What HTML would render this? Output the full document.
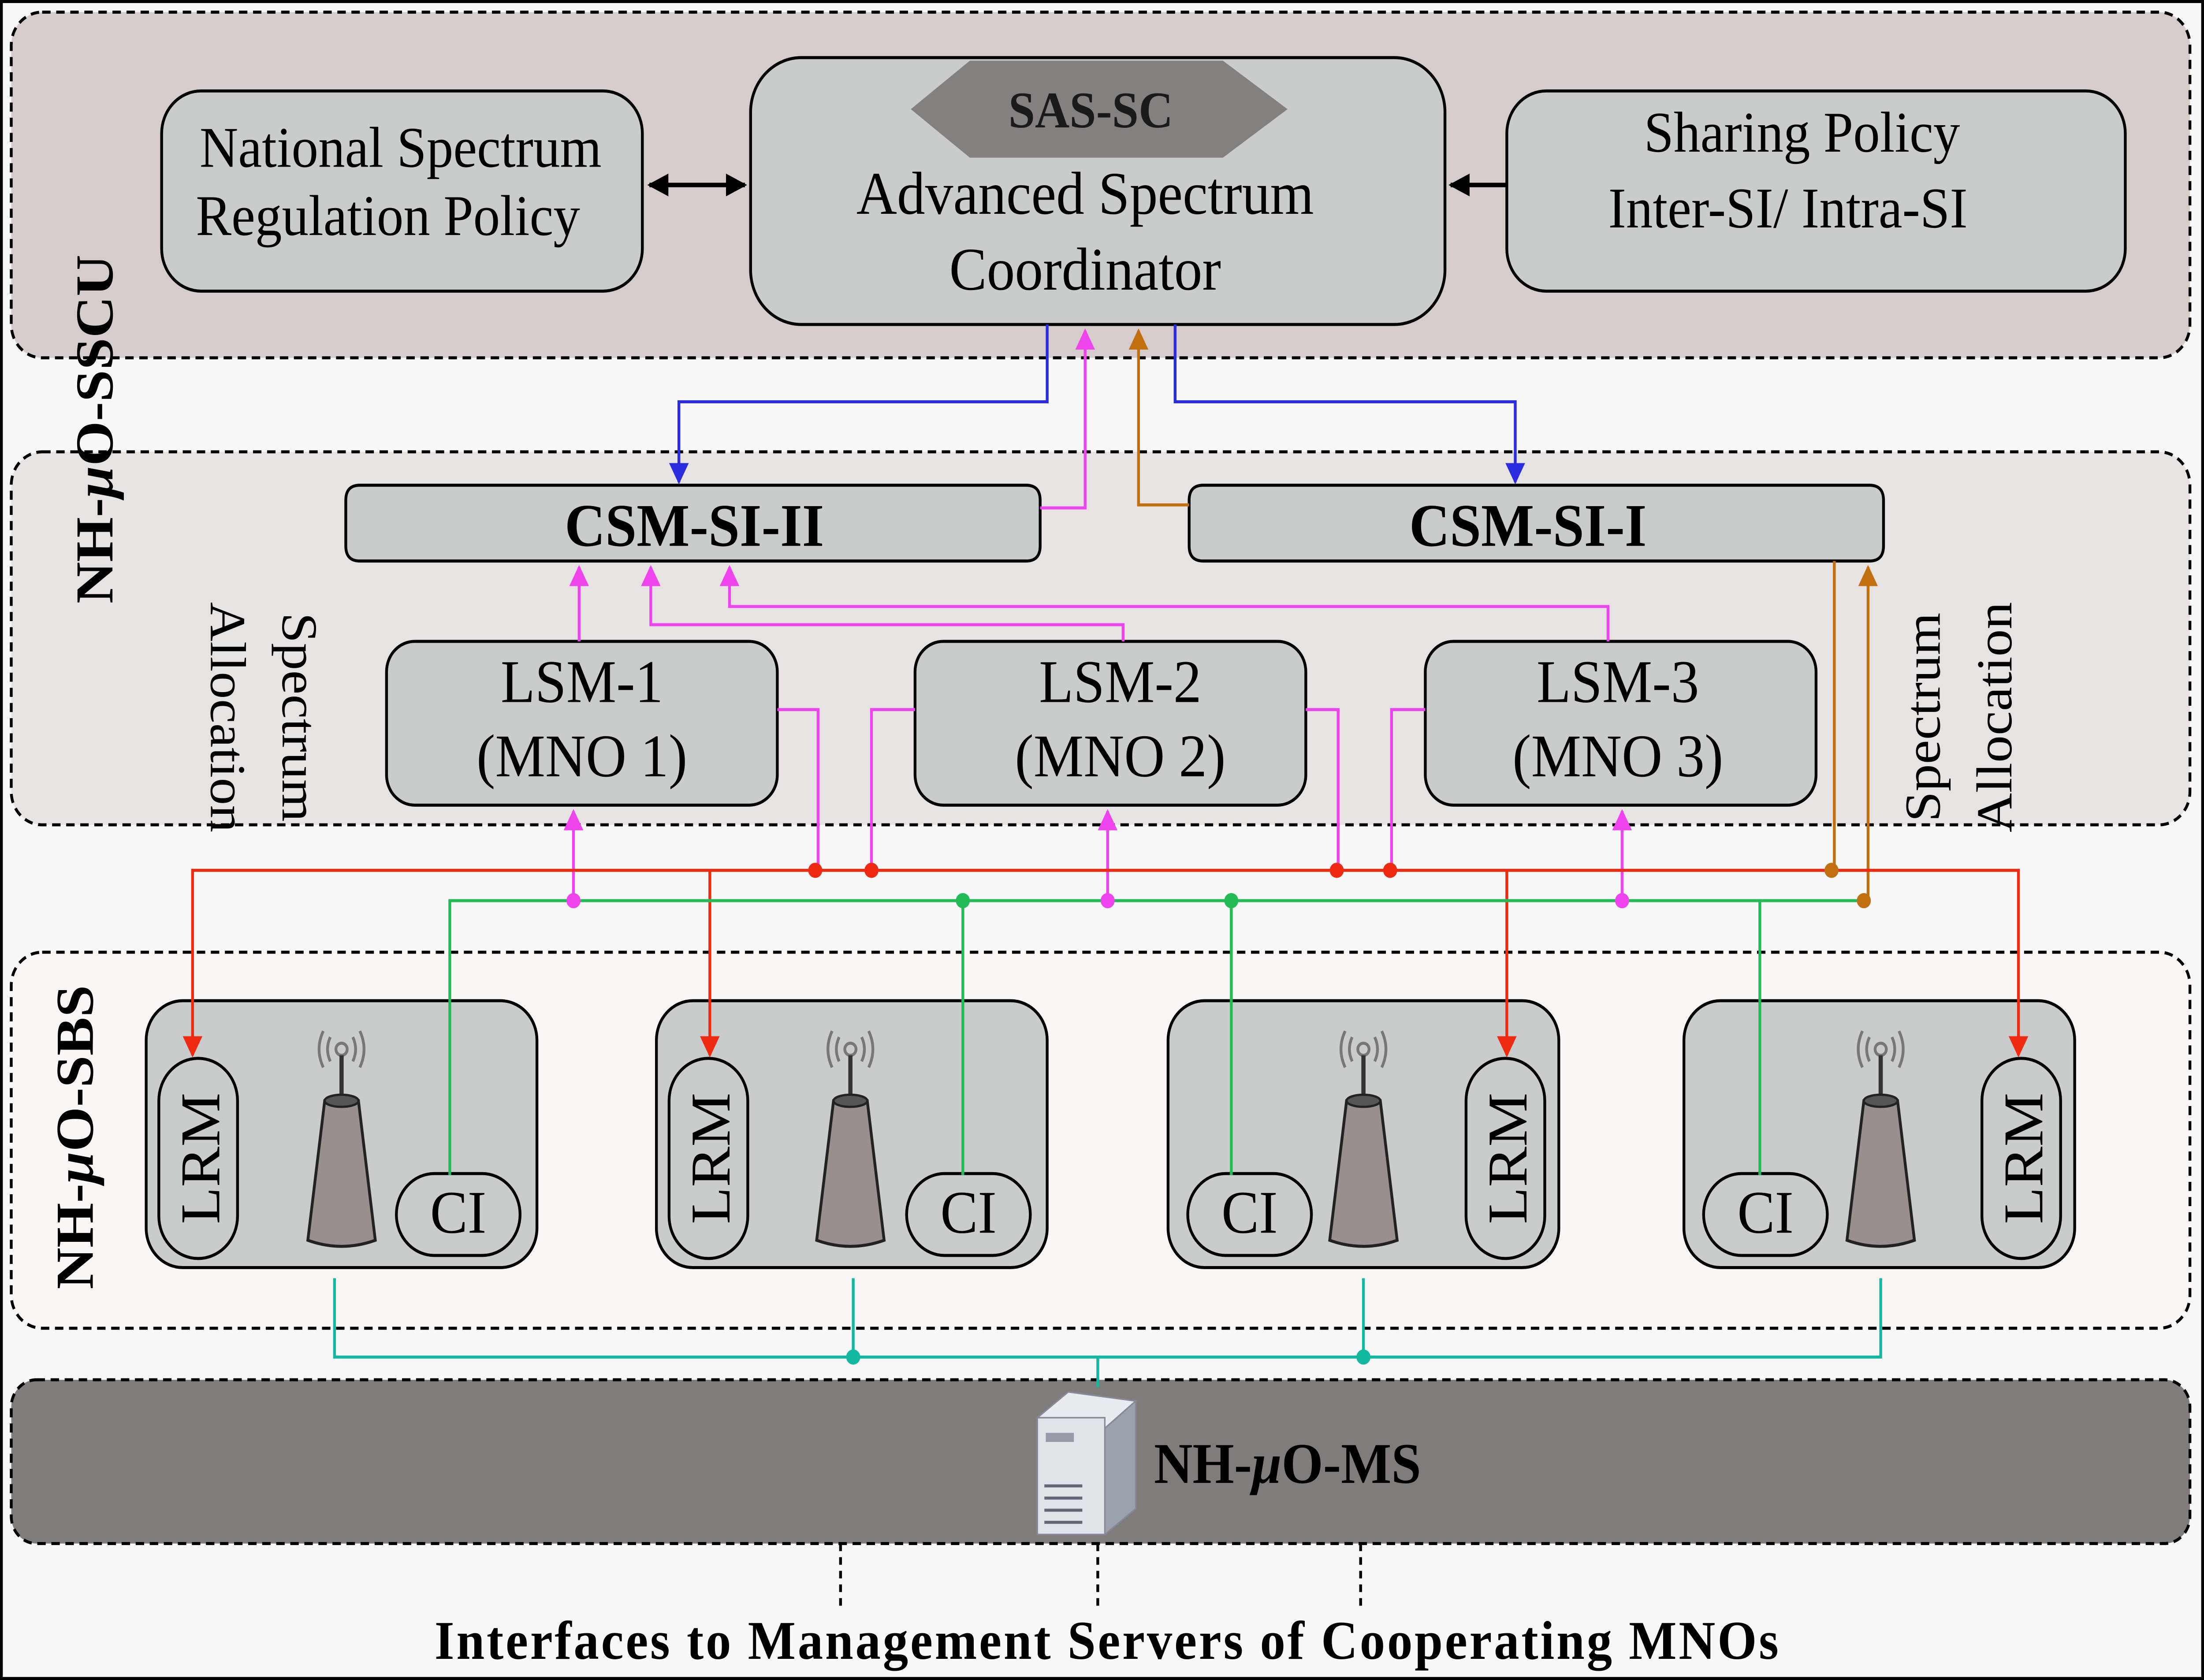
<!DOCTYPE html>
<html><head><meta charset="utf-8"><style>html,body{margin:0;padding:0;background:#fff;width:100%;height:100%;overflow:hidden}svg{display:block;position:fixed;left:0;top:0;width:100vw;height:100vh}</style></head>
<body>
<svg viewBox="0 0 1568 1108" preserveAspectRatio="none" xmlns="http://www.w3.org/2000/svg" font-family="Liberation Serif, serif">
<defs>
<marker id="ab" viewBox="0 0 10 10" refX="9" refY="5" markerWidth="7" markerHeight="7" orient="auto-start-reverse"><path d="M0,0L10,5L0,10z" fill="#2b2be0"/></marker>
<marker id="am" viewBox="0 0 10 10" refX="9" refY="5" markerWidth="7" markerHeight="7" orient="auto-start-reverse"><path d="M0,0L10,5L0,10z" fill="#ee44ee"/></marker>
<marker id="ao" viewBox="0 0 10 10" refX="9" refY="5" markerWidth="7" markerHeight="7" orient="auto-start-reverse"><path d="M0,0L10,5L0,10z" fill="#c07010"/></marker>
<marker id="ar" viewBox="0 0 10 10" refX="9" refY="5" markerWidth="7" markerHeight="7" orient="auto-start-reverse"><path d="M0,0L10,5L0,10z" fill="#ee2a10"/></marker>
<marker id="ak" viewBox="0 0 10 10" refX="9" refY="5" markerWidth="5" markerHeight="5" orient="auto-start-reverse"><path d="M0,0L10,5L0,10z" fill="#000"/></marker>
<g id="tower">
<path d="M-8,-22 Q-12,-30 -8,-38 M8,-22 Q12,-30 8,-38 M-13,-18 Q-19,-30 -13,-42 M13,-18 Q19,-30 13,-42" stroke="#777" stroke-width="2" fill="none"/>
<circle cx="0" cy="-30" r="4" fill="none" stroke="#777" stroke-width="2"/>
<line x1="0" y1="-26" x2="0" y2="0" stroke="#333" stroke-width="3"/>
<path d="M-12,4 L12,4 L24,96 Q0,104 -24,96 Z" fill="#9a8f8f" stroke="#222" stroke-width="2"/>
<ellipse cx="0" cy="4" rx="12" ry="4" fill="#555" stroke="#222" stroke-width="1.5"/>
</g>
</defs>
<rect x="1" y="1" width="1566" height="1106" fill="#f8f8f8" stroke="#000" stroke-width="2"/>
<rect x="8" y="8" width="1550" height="228" rx="22" fill="#d6cccc" stroke="#000" stroke-width="2" stroke-dasharray="6,4"/>
<rect x="8" y="298" width="1550" height="246" rx="22" fill="#e8e3e3" stroke="#000" stroke-width="2" stroke-dasharray="6,4"/>
<rect x="8" y="628" width="1550" height="248" rx="22" fill="#fbf6f6" stroke="#000" stroke-width="2" stroke-dasharray="6,4"/>
<rect x="8" y="910" width="1550" height="108" rx="18" fill="#807c7c" stroke="#000" stroke-width="2" stroke-dasharray="6,4"/>
<rect x="115" y="60" width="342" height="132" rx="28" fill="#c9cccb" stroke="#000" stroke-width="2"/>
<text x="285" y="110" font-size="38" text-anchor="middle">National Spectrum</text>
<text x="276" y="155" font-size="38" text-anchor="middle">Regulation Policy</text>
<rect x="534" y="38" width="494" height="176" rx="36" fill="#c9cccb" stroke="#000" stroke-width="2"/>
<polygon points="648,72 690,40 870,40 916,72 870,104 690,104" fill="#858080"/>
<text x="776" y="84" font-size="34" font-weight="bold" text-anchor="middle" fill="#1a1a1a">SAS-SC</text>
<text x="772" y="141" font-size="40" text-anchor="middle">Advanced Spectrum</text>
<text x="772" y="191" font-size="40" text-anchor="middle">Coordinator</text>
<rect x="1072" y="60" width="440" height="132" rx="28" fill="#c9cccb" stroke="#000" stroke-width="2"/>
<text x="1282" y="100" font-size="38" text-anchor="middle">Sharing Policy</text>
<text x="1272" y="150" font-size="38" text-anchor="middle">Inter-SI/ Intra-SI</text>
<line x1="462" y1="122" x2="530" y2="122" stroke="#000" stroke-width="3" marker-start="url(#ak)" marker-end="url(#ak)"/>
<line x1="1072" y1="122" x2="1032" y2="122" stroke="#000" stroke-width="3" marker-end="url(#ak)"/>
<path d="M256,320 H730 Q740,320 740,330 V360 Q740,370 730,370 H256 Q246,370 246,360 V330 Q246,320 256,320Z" fill="#c9cccb" stroke="#000" stroke-width="2"/>
<text x="494" y="360" font-size="40" font-weight="bold" text-anchor="middle">CSM-SI-II</text>
<path d="M856,320 H1330 Q1340,320 1340,330 V360 Q1340,370 1330,370 H856 Q846,370 846,360 V330 Q846,320 856,320Z" fill="#c9cccb" stroke="#000" stroke-width="2"/>
<text x="1087" y="360" font-size="40" font-weight="bold" text-anchor="middle">CSM-SI-I</text>
<polyline points="745,214 745,265 483,265 483,318" fill="none" stroke="#2b2be0" stroke-width="2" marker-end="url(#ab)"/>
<polyline points="836,214 836,265 1078,265 1078,318" fill="none" stroke="#2b2be0" stroke-width="2" marker-end="url(#ab)"/>
<polyline points="740,335 772,335 772,218" fill="none" stroke="#ee44ee" stroke-width="2" marker-end="url(#am)"/>
<polyline points="846,333 810,333 810,218" fill="none" stroke="#c07010" stroke-width="2" marker-end="url(#ao)"/>
<rect x="275" y="423" width="278" height="108" rx="20" fill="#c9cccb" stroke="#000" stroke-width="2"/>
<text x="414" y="463" font-size="40" text-anchor="middle">LSM-1</text>
<text x="414" y="512" font-size="40" text-anchor="middle">(MNO 1)</text>
<rect x="651" y="423" width="278" height="108" rx="20" fill="#c9cccb" stroke="#000" stroke-width="2"/>
<text x="797" y="463" font-size="40" text-anchor="middle">LSM-2</text>
<text x="797" y="512" font-size="40" text-anchor="middle">(MNO 2)</text>
<rect x="1014" y="423" width="278" height="108" rx="20" fill="#c9cccb" stroke="#000" stroke-width="2"/>
<text x="1151" y="463" font-size="40" text-anchor="middle">LSM-3</text>
<text x="1151" y="512" font-size="40" text-anchor="middle">(MNO 3)</text>
<!-- SBS boxes (drawn before connectors) -->
<g stroke="#000" stroke-width="2" fill="#c9cccb">
<rect x="104" y="660" width="278" height="176" rx="26"/>
<rect x="467" y="660" width="278" height="176" rx="26"/>
<rect x="831" y="660" width="278" height="176" rx="26"/>
<rect x="1198" y="660" width="278" height="176" rx="26"/>
<rect x="113" y="698" width="56" height="132" rx="28"/>
<rect x="476" y="698" width="56" height="132" rx="28"/>
<rect x="1043" y="698" width="56" height="132" rx="28"/>
<rect x="1410" y="698" width="56" height="132" rx="28"/>
<rect x="282" y="774" width="88" height="54" rx="27"/>
<rect x="645" y="774" width="88" height="54" rx="27"/>
<rect x="845" y="774" width="88" height="54" rx="27"/>
<rect x="1212" y="774" width="88" height="54" rx="27"/>
</g>
<g font-size="40">
<text transform="translate(156,764) rotate(-90)" text-anchor="middle">LRM</text>
<text transform="translate(519,764) rotate(-90)" text-anchor="middle">LRM</text>
<text transform="translate(1086,764) rotate(-90)" text-anchor="middle">LRM</text>
<text transform="translate(1453,764) rotate(-90)" text-anchor="middle">LRM</text>
<text x="326" y="813" text-anchor="middle">CI</text>
<text x="689" y="813" text-anchor="middle">CI</text>
<text x="889" y="813" text-anchor="middle">CI</text>
<text x="1256" y="813" text-anchor="middle">CI</text>
</g>
<use href="#tower" x="243" y="722"/>
<use href="#tower" x="605" y="722"/>
<use href="#tower" x="970" y="722"/>
<use href="#tower" x="1338" y="722"/>
<g fill="none" stroke="#ee44ee" stroke-width="2">
<line x1="412" y1="423" x2="412" y2="374" marker-end="url(#am)"/>
<polyline points="799,423 799,412 463,412 463,374" marker-end="url(#am)"/>
<polyline points="1144,423 1144,400 519,400 519,374" marker-end="url(#am)"/>
<polyline points="553,468 582,468 582,574"/>
<polyline points="651,468 620,468 620,574"/>
<polyline points="929,468 952,468 952,574"/>
<polyline points="1014,468 990,468 990,574"/>
<line x1="408" y1="594" x2="408" y2="535" marker-end="url(#am)"/>
<line x1="788" y1="594" x2="788" y2="535" marker-end="url(#am)"/>
<line x1="1154" y1="594" x2="1154" y2="535" marker-end="url(#am)"/>
</g>
<g fill="none" stroke="#c07010" stroke-width="2">
<polyline points="1305,370 1305,574"/>
<polyline points="1326,594 1329,594 1329,374" marker-end="url(#ao)"/>
</g>
<g fill="none" stroke="#ee2a10" stroke-width="2">
<polyline points="137,696 137,574 1436,574 1436,696" marker-start="url(#ar)" marker-end="url(#ar)"/>
<polyline points="505,574 505,696" marker-end="url(#ar)"/>
<polyline points="1072,574 1072,696" marker-end="url(#ar)"/>
</g>
<g fill="none" stroke="#22bb55" stroke-width="2">
<polyline points="320,775 320,594 1326,594"/>
<line x1="685" y1="594" x2="685" y2="775"/>
<line x1="876" y1="594" x2="876" y2="775"/>
<line x1="1252" y1="594" x2="1252" y2="775"/>
</g>
<g fill="#ee2a10"><circle cx="580" cy="574" r="5"/><circle cx="620" cy="574" r="5"/><circle cx="951" cy="574" r="5"/><circle cx="989" cy="574" r="5"/></g>
<g fill="#ee44ee"><circle cx="408" cy="594" r="5"/><circle cx="788" cy="594" r="5"/><circle cx="1154" cy="594" r="5"/></g>
<g fill="#22bb55"><circle cx="685" cy="594" r="5"/><circle cx="876" cy="594" r="5"/></g>
<g fill="#c07010"><circle cx="1303" cy="574" r="5"/><circle cx="1326" cy="594" r="5"/></g>
<g fill="none" stroke="#14b8a0" stroke-width="2">
<polyline points="238,843 238,895 1338,895 1338,843"/>
<line x1="607" y1="843" x2="607" y2="895"/>
<line x1="970" y1="843" x2="970" y2="895"/>
<line x1="781" y1="895" x2="781" y2="915"/>
</g>
<g fill="#14b8a0"><circle cx="607" cy="895" r="5"/><circle cx="970" cy="895" r="5"/></g>
<g>
<path d="M738,935 L760,918 L808,924 L786,942 Z" fill="#e8ecf0" stroke="#889" stroke-width="1"/>
<path d="M786,942 L808,924 L808,995 L786,1012 Z" fill="#9aa3ad" stroke="#889" stroke-width="1"/>
<rect x="738" y="935" width="48" height="77" fill="#dfe4ea" stroke="#889" stroke-width="1"/>
<g stroke="#667" stroke-width="2"><line x1="743" y1="980" x2="770" y2="980"/><line x1="743" y1="988" x2="770" y2="988"/><line x1="743" y1="996" x2="770" y2="996"/><line x1="743" y1="1004" x2="770" y2="1004"/></g>
<rect x="744" y="945" width="20" height="6" fill="#99a"/>
</g>
<text x="821" y="978" font-size="38" font-weight="bold">NH-<tspan font-style="italic">μ</tspan>O-MS</text>
<g stroke="#000" stroke-width="2" stroke-dasharray="5,4">
<line x1="598" y1="1018" x2="598" y2="1062"/>
<line x1="781" y1="1018" x2="781" y2="1062"/>
<line x1="968" y1="1018" x2="968" y2="1062"/>
</g>
<text x="788" y="1094" font-size="36" font-weight="bold" text-anchor="middle" letter-spacing="1.5">Interfaces to Management Servers of Cooperating MNOs</text>
<text transform="translate(80,283) rotate(-90)" font-size="38" font-weight="bold" text-anchor="middle">NH-<tspan font-style="italic">μ</tspan>O-SSCU</text>
<text transform="translate(66,750) rotate(-90)" font-size="38" font-weight="bold" text-anchor="middle">NH-<tspan font-style="italic">μ</tspan>O-SBS</text>
<text transform="translate(201,473) rotate(90)" font-size="36" text-anchor="middle">Spectrum</text>
<text transform="translate(150,473) rotate(90)" font-size="36" text-anchor="middle">Allocation</text>
<text transform="translate(1380,473) rotate(-90)" font-size="36" text-anchor="middle">Spectrum</text>
<text transform="translate(1431,473) rotate(-90)" font-size="36" text-anchor="middle">Allocation</text>
</svg>
</body></html>
